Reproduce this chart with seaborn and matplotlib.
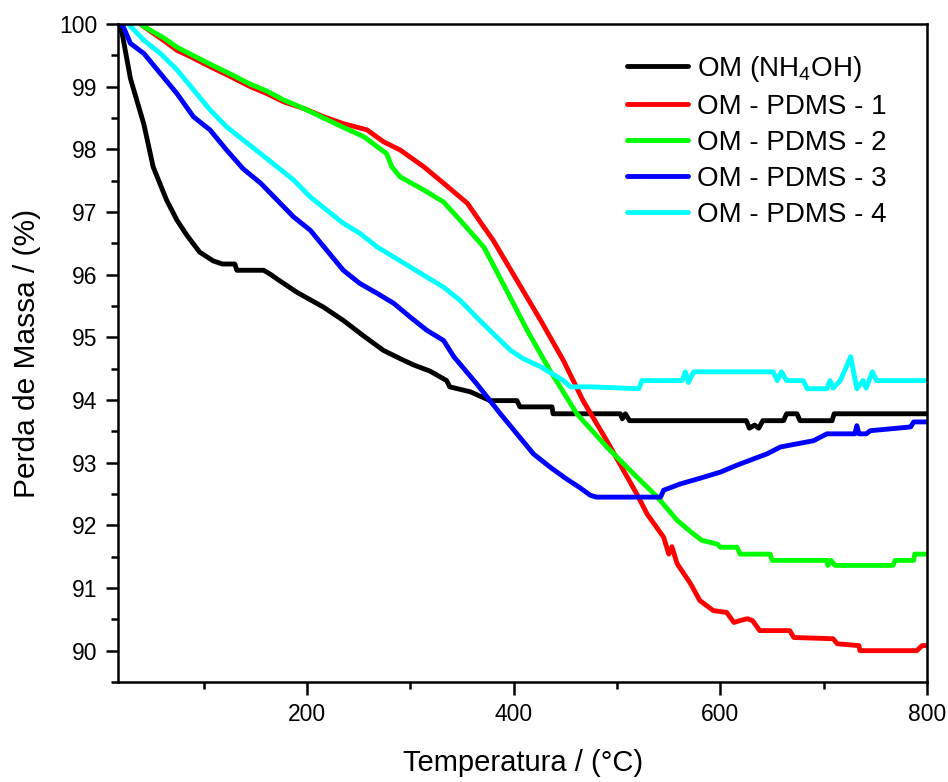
import numpy as np
import pandas as pd
import matplotlib
matplotlib.use("Agg")
import matplotlib.pyplot as plt
from matplotlib.ticker import MultipleLocator
import seaborn as sns

# Thermogravimetric curves: temperature (°C) vs. remaining mass (%)
labels = ["OM (NH$_\\mathregular{4}$OH)", "OM - PDMS - 1", "OM - PDMS - 2",
          "OM - PDMS - 3", "OM - PDMS - 4"]
colors = ["#000000", "#FF0000", "#00FF00", "#0000FF", "#00FFFF"]

t_nh4oh = [17, 21, 29, 42, 51, 64, 74, 84, 96, 109, 118, 130, 132, 158, 165, 171, 190,
           216, 235, 254, 274, 290, 303, 319, 335, 338, 358, 377, 403, 406, 437, 438,
           503, 505, 508, 512, 625, 628, 633, 637, 641, 661, 664, 674, 677, 708, 710,
           719, 800]
m_nh4oh = [100.0, 99.85, 99.13, 98.40, 97.72, 97.19, 96.87, 96.62, 96.36, 96.22, 96.17,
           96.17, 96.07, 96.07, 96.00, 95.93, 95.72, 95.48, 95.27, 95.03, 94.79, 94.66,
           94.56, 94.46, 94.31, 94.21, 94.13, 93.99, 93.99, 93.89, 93.89, 93.78, 93.78,
           93.70, 93.78, 93.67, 93.67, 93.55, 93.60, 93.55, 93.67, 93.67, 93.78, 93.78,
           93.67, 93.67, 93.78, 93.78, 93.78]

t_pdms1 = [40, 61, 74, 87, 106, 126, 145, 161, 177, 197, 216, 235, 258, 274, 290, 313,
           332, 355, 371, 380, 403, 426, 448, 467, 490, 519, 529, 545, 550, 553, 558,
           571, 580, 593, 606, 613, 619, 626, 631, 638, 667, 671, 709, 713, 734, 735,
           790, 795, 800]
m_pdms1 = [99.98, 99.74, 99.58, 99.48, 99.32, 99.16, 99.00, 98.89, 98.76, 98.65, 98.52,
           98.41, 98.31, 98.12, 97.99, 97.72, 97.46, 97.14, 96.76, 96.55, 95.91, 95.27,
           94.63, 93.99, 93.35, 92.50, 92.18, 91.81, 91.54, 91.66, 91.39, 91.07, 90.80,
           90.64, 90.61, 90.45, 90.48, 90.51, 90.48, 90.32, 90.32, 90.21, 90.19, 90.11,
           90.08, 90.00, 90.00, 90.08, 90.08]

t_pdms2 = [40, 61, 74, 87, 106, 126, 145, 161, 177, 197, 216, 235, 255, 268, 277, 282,
           290, 313, 332, 348, 371, 393, 413, 435, 461, 490, 516, 539, 558, 574, 582,
           597, 600, 616, 619, 648, 650, 703, 704, 707, 711, 767, 769, 787, 788, 800]
m_pdms2 = [99.98, 99.78, 99.63, 99.52, 99.36, 99.20, 99.04, 98.93, 98.79, 98.65, 98.50,
           98.35, 98.20, 98.04, 97.93, 97.72, 97.56, 97.35, 97.16, 96.87, 96.44, 95.75,
           95.11, 94.47, 93.78, 93.25, 92.82, 92.45, 92.08, 91.86, 91.76, 91.70, 91.65,
           91.65, 91.54, 91.54, 91.44, 91.44, 91.36, 91.44, 91.36, 91.36, 91.44, 91.44,
           91.54, 91.54]

t_pdms3 = [19, 22, 29, 42, 58, 74, 90, 106, 122, 138, 155, 171, 187, 203, 219, 235, 251,
           268, 284, 300, 316, 332, 342, 364, 387, 403, 419, 435, 451, 464, 474, 480,
           542, 545, 561, 580, 600, 616, 632, 645, 658, 690, 703, 730, 732, 734, 741,
           745, 784, 787, 800]
m_pdms3 = [100.0, 99.96, 99.69, 99.53, 99.21, 98.89, 98.52, 98.31, 97.99, 97.69, 97.46,
           97.19, 96.92, 96.71, 96.39, 96.07, 95.86, 95.70, 95.54, 95.32, 95.11, 94.95,
           94.69, 94.26, 93.78, 93.46, 93.14, 92.93, 92.74, 92.60, 92.48, 92.45, 92.45,
           92.56, 92.66, 92.75, 92.85, 92.96, 93.06, 93.14, 93.25, 93.35, 93.46, 93.46,
           93.59, 93.46, 93.46, 93.51, 93.57, 93.65, 93.65]

t_pdms4 = [27, 42, 58, 74, 90, 106, 122, 138, 155, 171, 187, 203, 219, 235, 251, 268,
           284, 300, 316, 332, 348, 364, 380, 397, 409, 426, 448, 455, 474, 521, 524,
           563, 566, 569, 574, 651, 655, 659, 664, 680, 684, 703, 706, 709, 716, 726,
           732, 738, 741, 747, 751, 798]
m_pdms4 = [100.0, 99.74, 99.53, 99.27, 98.95, 98.63, 98.36, 98.15, 97.93, 97.72, 97.51,
           97.24, 97.03, 96.82, 96.66, 96.44, 96.28, 96.12, 95.96, 95.80, 95.59, 95.32,
           95.06, 94.79, 94.66, 94.53, 94.31, 94.21, 94.21, 94.18, 94.31, 94.31, 94.45,
           94.28, 94.45, 94.45, 94.31, 94.45, 94.31, 94.31, 94.18, 94.18, 94.31, 94.19,
           94.31, 94.69, 94.18, 94.31, 94.19, 94.45, 94.31, 94.31]

temps = [t_nh4oh, t_pdms1, t_pdms2, t_pdms3, t_pdms4]
masses = [m_nh4oh, m_pdms1, m_pdms2, m_pdms3, m_pdms4]

frames = []
for lab, t, m in zip(labels, temps, masses):
    frames.append(pd.DataFrame({"Temperatura": t, "Massa": m, "Amostra": lab}))
df = pd.concat(frames, ignore_index=True)

sns.set_theme(style="ticks")
plt.rcParams["font.family"] = ["Liberation Sans", "DejaVu Sans"]
plt.rcParams["mathtext.fontset"] = "custom"
plt.rcParams["mathtext.rm"] = "Liberation Sans"
plt.rcParams["mathtext.it"] = "Liberation Sans"
plt.rcParams["text.color"] = "black"
plt.rcParams["axes.labelcolor"] = "black"
plt.rcParams["xtick.color"] = "black"
plt.rcParams["ytick.color"] = "black"

fig, ax = plt.subplots(figsize=(9.48, 7.82), dpi=100)
fig.subplots_adjust(left=0.1245, right=0.978, top=0.9693, bottom=0.1279)

sns.lineplot(data=df, x="Temperatura", y="Massa", hue="Amostra", hue_order=labels,
             palette=colors, estimator=None, sort=False, units="Amostra",
             linewidth=3.5, ax=ax, legend=False)

ax.set_xlim(17, 800)
ax.set_ylim(89.5, 100)
ax.xaxis.set_major_locator(MultipleLocator(200))
ax.xaxis.set_minor_locator(MultipleLocator(100))
ax.yaxis.set_major_locator(MultipleLocator(1))
ax.yaxis.set_minor_locator(MultipleLocator(0.5))
ax.tick_params(axis="both", which="major", direction="out", length=9, width=1.8,
               labelsize=16.5, pad=6, colors="black", labelcolor="black")
ax.tick_params(axis="both", which="minor", direction="out", length=5, width=1.8,
               colors="black")
ax.tick_params(top=False, right=False, which="both")
for side in ["top", "right", "bottom", "left"]:
    ax.spines[side].set_visible(True)
    ax.spines[side].set_linewidth(1.8)
    ax.spines[side].set_color("black")

ax.set_xlabel("Temperatura / (°C)", fontsize=21, labelpad=17, color="black")
ax.set_ylabel("Perda de Massa / (%)", fontsize=21.5, labelpad=13, color="black")

handles = [plt.Line2D([], [], color=c, linewidth=3.5) for c in colors]
ax.legend(handles, labels, loc="upper left", bbox_to_anchor=(0.629, 0.955),
          frameon=False, fontsize=20, handlelength=2.2, handletextpad=0.32,
          labelspacing=0.36, borderpad=0, borderaxespad=0)

fig.savefig("out.png", dpi=100, facecolor="white")
